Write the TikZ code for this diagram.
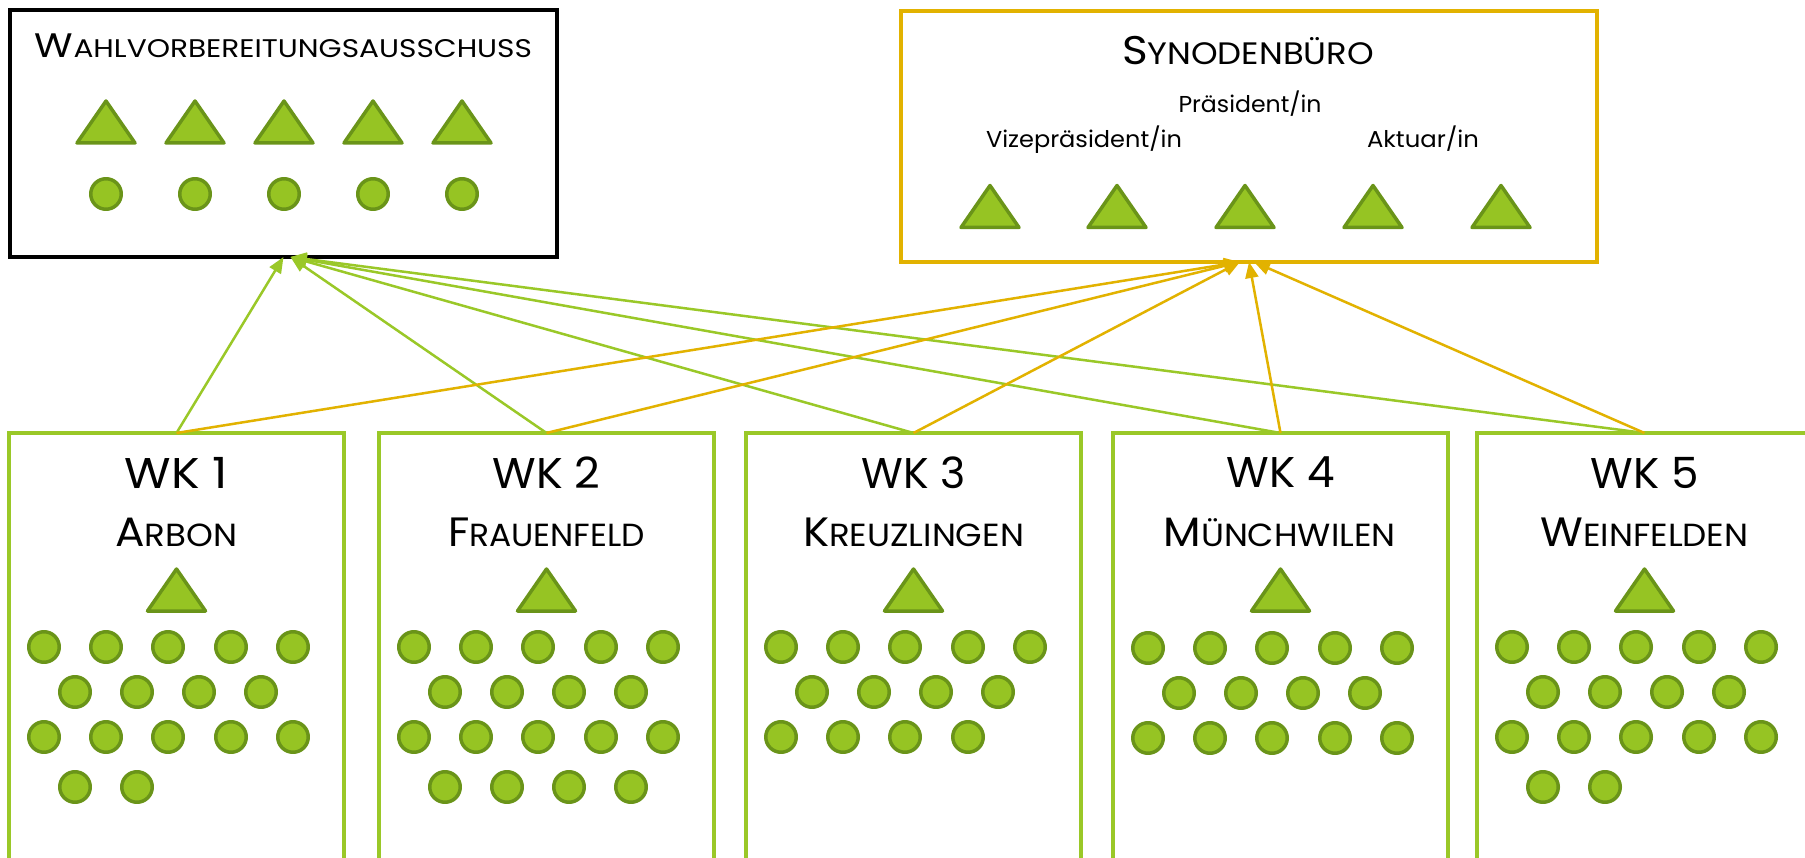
\documentclass[tikz,border=0pt]{standalone}
\usepackage{fontspec}
\setmainfont{Poppins}
\usetikzlibrary{arrows.meta}
\definecolor{shfill}{HTML}{96C423}
\definecolor{shdraw}{HTML}{6A9419}
\definecolor{boxgreen}{HTML}{9AC828}
\definecolor{goldc}{HTML}{E2B200}
\newcommand\fitw[2]{\resizebox{#1}{\height}{#2}}
\newcommand\fakesc[3]{#2{\fontsize{#1}{#1}\selectfont\MakeUppercase{#3}}}
\newcommand\dotrow[5]{%
  \foreach \o [count=\j] in {#4} \node[dot] (#1-#5-\j) at ({#2+\o},#3) {};}
\tikzset{
  shapestyle/.style={fill=shfill, draw=shdraw, line width=3.5pt, line join=round},
  tri/.pic={\draw[shapestyle] (0,-21) -- (29,21) -- (-29,21) -- cycle;},
  dot/.style={circle, shapestyle, minimum size=30.5pt, inner sep=0pt, outer sep=0pt},
  bigbox/.style={draw, line width=4pt, anchor=north west, inner sep=0pt, outer sep=0pt},
  wkbox/.style={bigbox, draw=boxgreen, minimum width=335pt, minimum height=427pt},
  lbl/.style={anchor=base, inner sep=0pt, text=black},
  garrow/.style={draw=boxgreen, line width=2.5pt, -{Triangle[length=16pt,width=13pt]}},
  yarrow/.style={draw=goldc, line width=2.5pt, -{Triangle[length=16pt,width=13pt]}},
}
\begin{document}
\begin{tikzpicture}[x=1pt,y=-1pt]
\useasboundingbox (0,0) rectangle (1805,858);
\clip (0,0) rectangle (1805,858);
\fill[white] (0,0) rectangle (1805,858);
% top boxes
\node[bigbox, draw=black, minimum width=547pt, minimum height=247pt] (wahl) at (10,10) {};
\node[bigbox, draw=goldc, minimum width=696pt, minimum height=251pt] (syn) at (901,11) {};
% bottom boxes
\node[wkbox] (wk1) at (9,433) {};
\node[wkbox] (wk2) at (379,433) {};
\node[wkbox] (wk3) at (746,433) {};
\node[wkbox] (wk4) at (1113,433) {};
\node[wkbox] (wk5) at (1477,433) {};
% connectors
\draw[garrow] (wk1.north) -- (wahl.south);
\draw[garrow] (wk2.north) -- ([xshift=7pt]wahl.south);
\draw[garrow] (wk3.north) -- ([xshift=7pt]wahl.south);
\draw[garrow] (wk4.north) -- ([xshift=7pt]wahl.south);
\draw[garrow] (wk5.north) -- ([xshift=7pt]wahl.south);
\draw[yarrow] (wk1.north) -- ([xshift=-9pt]syn.south);
\draw[yarrow] (wk2.north) -- ([xshift=-9pt]syn.south);
\draw[yarrow] (wk3.north) -- ([xshift=-9pt]syn.south);
\draw[yarrow] (wk4.north) -- (syn.south);
\draw[yarrow] (wk5.north) -- ([xshift=5pt]syn.south);
% Wahlvorbereitungsausschuss
\node[lbl] (wahlt) at (283.5,58) {\fitw{497pt}{\fontsize{34pt}{34pt}\selectfont\fakesc{25.5pt}{W}{ahlvorbereitungsausschuss}}};
\foreach \x in {106,195,284,373,462} \pic at (\x,122) {tri};
\foreach \x [count=\j] in {106,195,284,373,462} \node[dot] (wd\j) at (\x,194) {};
% Synodenbuero
\node[lbl] (synt) at (1248,65) {\fitw{252pt}{\fontsize{40pt}{40pt}\selectfont\fakesc{31pt}{S}{ynodenbüro}}};
\node[lbl] (pres) at (1250,113) {\fitw{143pt}{\fontsize{23pt}{23pt}\selectfont Präsident/in}};
\node[lbl] (vize) at (1084,148) {\fitw{196pt}{\fontsize{23pt}{23pt}\selectfont Vizepräsident/in}};
\node[lbl] (akt) at (1423,148) {\fitw{112pt}{\fontsize{23pt}{23pt}\selectfont Aktuar/in}};
\foreach \x in {990,1117,1245,1373,1501} \pic at (\x,206.5) {tri};
% WK titles
\node[lbl] (t1) at (176.5,488) {\fitw{103pt}{\fontsize{43pt}{43pt}\selectfont WK 1}};
\node[lbl] (t2) at (546.5,488) {\fitw{108pt}{\fontsize{43pt}{43pt}\selectfont WK 2}};
\node[lbl] (t3) at (913.5,488) {\fitw{104pt}{\fontsize{43pt}{43pt}\selectfont WK 3}};
\node[lbl] (t4) at (1280.5,488) {\fitw{108pt}{\fontsize{43pt}{43pt}\selectfont WK 4}};
\node[lbl] (t5) at (1644.5,488) {\fitw{108pt}{\fontsize{43pt}{43pt}\selectfont WK 5}};
\node[lbl] (n1) at (176.5,546) {\fitw{122pt}{\fontsize{41pt}{41pt}\selectfont\fakesc{32pt}{A}{rbon}}};
\node[lbl] (n2) at (546.5,546) {\fitw{197pt}{\fontsize{41pt}{41pt}\selectfont\fakesc{32pt}{F}{rauenfeld}}};
\node[lbl] (n3) at (913.5,546) {\fitw{221pt}{\fontsize{41pt}{41pt}\selectfont\fakesc{32pt}{K}{reuzlingen}}};
\node[lbl] (n4) at (1279.5,546) {\fitw{232pt}{\fontsize{41pt}{41pt}\selectfont\fakesc{32pt}{M}{ünchwilen}}};
\node[lbl] (n5) at (1644.5,546) {\fitw{208pt}{\fontsize{41pt}{41pt}\selectfont\fakesc{32pt}{W}{einfelden}}};
% triangles in WK boxes
\foreach \x in {176.5,546.5,913.5,1280.5,1644.5} \pic at (\x,590) {tri};
% members
\dotrow{wk1}{9}{647}{35,97,159,222,284}{a}
\dotrow{wk1}{9}{692}{66,128,190,252}{b}
\dotrow{wk1}{9}{737}{35,97,159,222,284}{c}
\dotrow{wk1}{9}{787}{66,128}{d}
\dotrow{wk2}{379}{647}{35,97,159,222,284}{a}
\dotrow{wk2}{379}{692}{66,128,190,252}{b}
\dotrow{wk2}{379}{737}{35,97,159,222,284}{c}
\dotrow{wk2}{379}{787}{66,128,190,252}{d}
\dotrow{wk3}{746}{647}{35,97,159,222,284}{a}
\dotrow{wk3}{746}{692}{66,128,190,252}{b}
\dotrow{wk3}{746}{737}{35,97,159,222}{c}
\dotrow{wk4}{1113}{648}{35,97,159,222,284}{a}
\dotrow{wk4}{1113}{693}{66,128,190,252}{b}
\dotrow{wk4}{1113}{738}{35,97,159,222,284}{c}
\dotrow{wk5}{1477}{647}{35,97,159,222,284}{a}
\dotrow{wk5}{1477}{692}{66,128,190,252}{b}
\dotrow{wk5}{1477}{737}{35,97,159,222,284}{c}
\dotrow{wk5}{1477}{787}{66,128}{d}
\end{tikzpicture}
\end{document}
